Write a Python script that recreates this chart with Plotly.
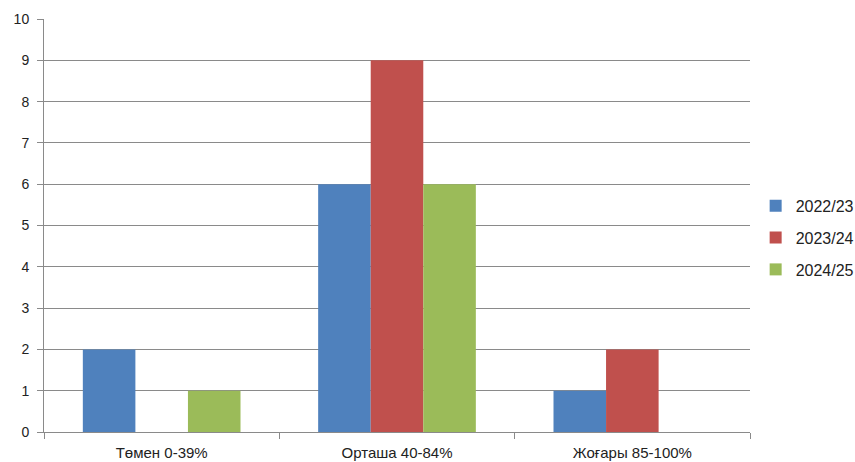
import plotly.graph_objects as go

categories = ["Төмен 0-39%", "Орташа 40-84%", "Жоғары 85-100%"]
series_names = ["2022/23", "2023/24", "2024/25"]
values_2022 = [2, 6, 1]
values_2023 = [0, 9, 2]
values_2024 = [1, 6, 0]
colors = ["#4F81BD", "#C0504D", "#9BBB59"]

fig = go.Figure()
for name, vals, col in zip(series_names, [values_2022, values_2023, values_2024], colors):
    fig.add_trace(go.Bar(x=categories, y=vals, name=name, legendgroup=name,
                         marker=dict(color=col, line=dict(width=0))))

fig.update_layout(
    width=855, height=462,
    margin=dict(l=44, r=105, t=19, b=30, autoexpand=False),
    plot_bgcolor="white", paper_bgcolor="white",
    barmode="group", bargap=0.33, bargroupgap=0,
    font=dict(family="Liberation Sans, Arial, sans-serif", size=13, color="#222"),
    legend=dict(x=1.008, y=0.47, yanchor="middle", xanchor="left",
                font=dict(size=16, color="#222"), tracegroupgap=8, itemwidth=30),
    showlegend=True,
)
fig.update_yaxes(range=[0, 10], dtick=1, showgrid=True, gridcolor="#8a8a8a", gridwidth=1,
                 showline=True, linecolor="#8a8a8a", ticks="outside", ticklen=6,
                 tickcolor="#8a8a8a", zeroline=False, tickfont=dict(size=14),
                 ticklabelstandoff=5, automargin=False)
fig.update_xaxes(showline=True, linecolor="#8a8a8a", ticks="outside", ticklen=6,
                 tickcolor="#8a8a8a", tickson="boundaries", tickfont=dict(size=15),
                 ticklabelstandoff=7, automargin=False)

fig.write_html("out.html")
